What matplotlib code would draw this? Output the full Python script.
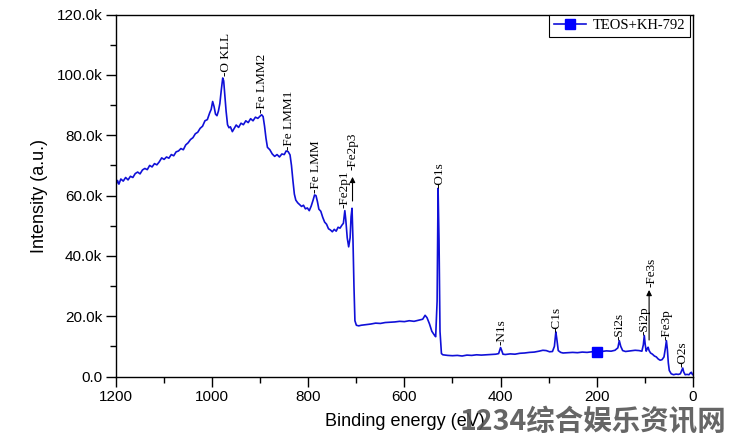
import matplotlib
matplotlib.use("Agg")
import matplotlib.pyplot as plt
from matplotlib.ticker import MultipleLocator, FuncFormatter

# ---- data (binding energy in eV, intensity in counts) ----
energy = [1200, 1197, 1194, 1190, 1185, 1180, 1175, 1170, 1165, 1160, 1155, 1150, 1145, 1140,
          1135, 1130, 1125, 1120, 1115, 1110, 1105, 1100, 1095, 1090, 1085, 1080, 1075, 1070,
          1065, 1060, 1055, 1050, 1045, 1040, 1035, 1030, 1025, 1020, 1015, 1010, 1005, 1002,
          999, 996, 993, 990, 987, 984, 981, 978, 976, 974, 971, 968, 965, 962, 958, 955,
          950, 945, 940, 935, 930, 925, 920, 915, 910, 905, 900, 897, 894, 891, 888, 885,
          880, 875, 870, 865, 860, 855, 850, 846, 842, 838, 835, 832, 829, 826, 822, 818,
          814, 810, 806, 802, 798, 794, 790, 787, 784, 781, 778, 774, 770, 766, 762, 758,
          754, 750, 746, 742, 738, 734, 730, 727, 724, 722, 719, 716, 713, 711, 709, 707,
          705, 703, 700, 695, 690, 680, 670, 660, 650, 640, 630, 620, 610, 600, 590, 580,
          570, 562, 557, 553, 548, 543, 538, 535, 532, 530, 528, 526, 523, 520, 510, 500,
          490, 480, 470, 460, 450, 440, 430, 420, 410, 404, 400, 398, 395, 390, 380, 370,
          360, 350, 340, 330, 320, 312, 305, 298, 292, 288, 285, 283, 280, 275, 270, 260,
          250, 240, 230, 220, 210, 200, 190, 180, 170, 162, 156, 153, 150, 146, 140, 130,
          120, 112, 106, 103, 101, 99, 97, 95, 93, 91, 88, 84, 80, 76, 72, 68,
          64, 60, 57, 55, 53, 51, 49, 45, 40, 35, 30, 26, 23, 21, 19, 16,
          12, 8, 5, 3, 1, 0]
intensity_k = [63.5, 65.0, 63.8, 65.5, 64.8, 66.0, 65.2, 66.4, 66.0, 67.3, 67.8, 67.2, 68.5, 69.0,
               68.6, 70.0, 69.5, 70.6, 70.2, 71.2, 72.5, 72.0, 72.8, 72.4, 73.6, 73.2, 74.5, 74.8,
               75.6, 75.2, 76.8, 77.5, 78.6, 79.2, 80.5, 81.0, 82.3, 83.0, 84.8, 85.2, 87.5, 88.6,
               91.2, 89.5, 87.0, 86.5, 88.0, 90.5, 95.0, 99.0, 98.0, 94.0, 88.0, 83.5, 82.5, 82.8, 81.2, 82.0,
               83.4, 82.6, 84.0, 83.5, 84.8, 84.2, 85.5, 84.8, 86.0, 85.6, 86.4, 86.8, 86.2, 83.0, 79.0, 76.0,
               75.2, 73.8, 73.0, 73.6, 72.8, 73.8, 73.6, 74.8, 74.6, 73.5, 70.0, 65.0, 60.5, 58.5, 57.6, 57.0,
               56.4, 56.8, 55.6, 55.9, 55.0, 56.5, 58.5, 60.2, 60.0, 58.0, 55.5, 54.8, 52.8, 51.2, 50.5, 49.0,
               48.6, 48.0, 48.8, 48.2, 49.5, 49.2, 50.2, 50.8, 55.0, 52.0, 46.0, 43.0, 46.0, 53.0, 55.8, 45.0,
               30.0, 18.5, 17.0, 16.8, 17.0, 17.2, 17.4, 17.7, 17.6, 17.9, 18.0, 18.1, 18.3, 18.2, 18.5, 18.3,
               18.7, 19.0, 20.3, 19.5, 17.5, 15.0, 13.8, 13.2, 25.0, 62.4, 45.0, 15.0, 7.6, 7.2, 7.0, 6.9,
               7.0, 6.8, 7.1, 7.0, 7.2, 7.1, 7.2, 7.3, 7.4, 7.6, 9.6, 8.8, 7.4, 7.3, 7.5, 7.4,
               7.7, 7.8, 8.0, 8.1, 8.4, 8.7, 8.6, 8.2, 8.3, 10.0, 14.8, 12.5, 8.6, 8.0, 7.8, 7.9,
               8.0, 7.9, 8.1, 8.0, 8.2, 8.0, 8.3, 8.5, 8.4, 8.7, 9.5, 11.9, 10.0, 8.6, 8.3, 8.5,
               8.7, 8.6, 8.4, 10.5, 13.6, 10.5, 8.4, 9.2, 9.7, 8.6, 7.8, 7.4, 6.8, 6.5, 5.8, 5.4,
               5.6, 6.5, 9.5, 11.9, 9.0, 4.5, 2.0, 0.9, 0.6, 0.8, 0.7, 0.9, 2.0, 2.8, 1.5, 0.6,
               0.7, 0.6, 1.2, 1.4, 0.7, 0.6]
intensity = [v * 1000 for v in intensity_k]

series_name = "TEOS+KH-792"
marker_energy = 200

# peak labels: text, anchor energy, anchor intensity (k)
peak_labels = ["-O KLL", "-Fe LMM2", "-Fe LMM1", "-Fe LMM", "-Fe2p1", "-Fe2p3",
               "-O1s", "-N1s", "-C1s", "-Si2s", "-Si2p", "-Fe3s", "-Fe3p", "-O2s"]
label_energy = [972, 896, 840, 783, 724, 707, 528, 399, 283, 152, 100, 85, 54, 21]
label_int_k = [99.5, 87.4, 75.1, 60.9, 55.9, 68.5, 62.5, 10.4, 14.8, 12.1, 13.8, 29.7, 12.1, 3.2]
# arrows (energy, from intensity k, to intensity k)
arrow_energy = [708, 91]
arrow_from_k = [58.2, 12.1]
arrow_to_k = [66.2, 28.7]

plt.rcParams['font.family'] = ['Liberation Sans', 'DejaVu Sans']

fig = plt.figure(figsize=(7.32, 4.44), dpi=100)
ax = fig.add_axes([0.1585, 0.152, 0.788, 0.815])

line_color = '#1010d8'
mark_idx = energy.index(marker_energy)
ax.plot(energy, intensity, color=line_color, lw=1.2, marker='s', markersize=7,
        markevery=[mark_idx], markerfacecolor='#0000ff', markeredgecolor='#0000ff',
        label=series_name)

ax.set_xlim(1200, 0)
ax.set_ylim(0, 120000)
ax.xaxis.set_major_locator(MultipleLocator(200))
ax.xaxis.set_minor_locator(MultipleLocator(100))
ax.yaxis.set_major_locator(MultipleLocator(20000))
ax.yaxis.set_minor_locator(MultipleLocator(10000))
ax.yaxis.set_major_formatter(FuncFormatter(lambda v, p: "0.0" if v == 0 else f"{v/1000:.1f}k"))
ax.tick_params(which='major', direction='out', length=7, width=1, labelsize=11, pad=3)
ax.tick_params(which='minor', direction='out', length=4, width=1)
for s in ax.spines.values():
    s.set_linewidth(1.0)

ax.set_xlabel("Binding energy (eV)", fontsize=13, labelpad=6)
ax.set_ylabel("Intensity (a.u.)", fontsize=13, labelpad=6)

serif = ['Liberation Serif', 'DejaVu Serif']
for txt, e, v in zip(peak_labels, label_energy, label_int_k):
    ax.text(e, v * 1000, txt, rotation=90, ha='center', va='bottom',
            fontsize=9.5, family=serif, color='black')
for e, a, b in zip(arrow_energy, arrow_from_k, arrow_to_k):
    ax.annotate("", xy=(e, b * 1000), xytext=(e, a * 1000),
                arrowprops=dict(arrowstyle='-|>', color='black', lw=0.8, mutation_scale=8,
                                shrinkA=0, shrinkB=0))

leg = ax.legend(loc='upper right', bbox_to_anchor=(0.995, 1.0), borderaxespad=0,
                prop={'family': serif, 'size': 10.5}, fancybox=False, framealpha=1,
                edgecolor='black', handlelength=2.2, borderpad=0.3, handletextpad=0.5)
leg.get_frame().set_linewidth(0.8)

fig.text(0.628, 0.05, "1234综合娱乐资讯网", fontsize=20.5, fontweight='bold',
         color='#555555', alpha=0.9, family=['Noto Sans CJK SC', 'DejaVu Sans'],
         ha='left', va='center')

fig.savefig("out.png", dpi=100)
